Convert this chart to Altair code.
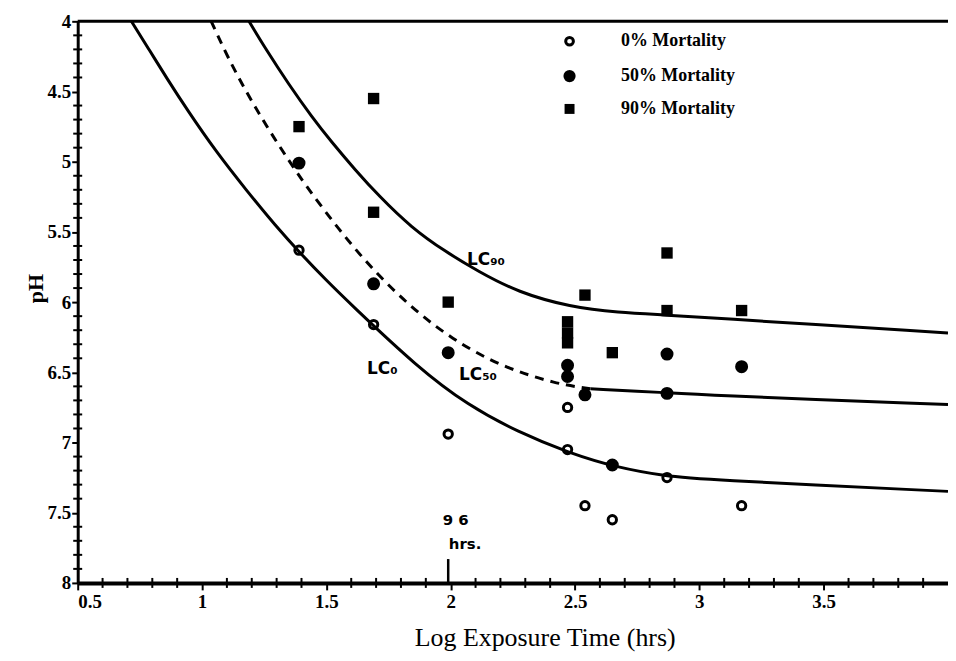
import altair as alt
import pandas as pd

# ---- observations (log exposure time in hrs, pH) ----
mort0_x = [1.39, 1.69, 1.99, 2.47, 2.47, 2.87, 2.54, 2.65, 3.17]
mort0_ph = [5.63, 6.16, 6.94, 6.75, 7.05, 7.25, 7.45, 7.55, 7.45]

mort50_x = [1.39, 1.69, 1.99, 2.47, 2.47, 2.54, 2.65, 2.87, 2.87, 3.17]
mort50_ph = [5.01, 5.87, 6.36, 6.45, 6.53, 6.66, 7.16, 6.37, 6.65, 6.46]

mort90_x = [1.39, 1.69, 1.69, 1.99, 2.47, 2.47, 2.47, 2.54, 2.65, 2.87, 2.87, 3.17]
mort90_ph = [4.75, 4.55, 5.36, 6.00, 6.14, 6.22, 6.29, 5.95, 6.36, 5.65, 6.06, 6.06]

# ---- fitted curves ----
lc0_x = [0.716, 0.79, 0.86, 0.94, 1.057, 1.177, 1.297, 1.397, 1.497, 1.589,
         1.87, 2.07, 2.27, 2.47, 2.671, 2.871, 2.991, 4.0]
lc0_ph = [4.0, 4.21, 4.41, 4.63, 4.93, 5.2, 5.46, 5.655, 5.84, 6.0,
          6.47, 6.735, 6.925, 7.07, 7.18, 7.24, 7.262, 7.348]

lc50_dash_x = [1.037, 1.101, 1.177, 1.257, 1.337, 1.421, 1.549, 1.681, 1.842,
               2.002, 2.202, 2.43, 2.562]
lc50_dash_ph = [4.0, 4.248, 4.5, 4.74, 4.96, 5.18, 5.48, 5.76, 6.04,
                6.26, 6.46, 6.585, 6.617]
lc50_solid_x = [2.562, 2.871, 2.991, 4.0]
lc50_solid_ph = [6.617, 6.645, 6.66, 6.73]

lc90_x = [1.189, 1.257, 1.349, 1.441, 1.521, 1.617, 1.709, 1.842, 1.978, 2.11,
          2.27, 2.482, 2.671, 2.871, 2.991, 4.0]
lc90_ph = [4.0, 4.2, 4.45, 4.68, 4.86, 5.06, 5.24, 5.47, 5.64, 5.78,
           5.93, 6.035, 6.075, 6.092, 6.106, 6.22]

# ---- annotations ----
curve_labels = ["LC\u2089\u2080", "LC\u2085\u2080", "LC\u2080"]
curve_label_x = [2.142, 2.11, 1.725]
curve_label_ph = [5.70, 6.52, 6.475]

legend_labels = ["0% Mortality", "50% Mortality", "90% Mortality"]
legend_marker_x = 2.478
legend_text_x = 2.685
legend_ph = [4.142, 4.39, 4.624]

# axis tick positions
x_major = [0.5, 1.0, 1.5, 2.0, 2.5, 3.0, 3.5]
x_minor = [0.6, 0.7, 0.8, 0.9, 1.1, 1.2, 1.3, 1.4, 1.6, 1.7, 1.8, 1.9,
           2.1, 2.2, 2.3, 2.4, 2.6, 2.7, 2.8, 2.9, 3.1, 3.2, 3.3, 3.4,
           3.6, 3.7, 3.8, 3.9]
y_major = [4.0, 4.5, 5.0, 5.5, 6.0, 6.5, 7.0, 7.5, 8.0]
y_minor = [4.1, 4.2, 4.3, 4.4, 4.6, 4.7, 4.8, 4.9, 5.1, 5.2, 5.3, 5.4,
           5.6, 5.7, 5.8, 5.9, 6.1, 6.2, 6.3, 6.4, 6.6, 6.7, 6.8, 6.9,
           7.1, 7.2, 7.3, 7.4, 7.6, 7.7, 7.8, 7.9]

SERIF = "Liberation Serif"
SANS = "DejaVu Sans"

X = alt.X(
    "x:Q",
    scale=alt.Scale(domain=[0.5, 4.0], nice=False, zero=False),
    axis=alt.Axis(
        values=x_major,
        format="~g",
        labelOverlap=False,
        labelFont=SERIF, labelFontWeight="bold", labelFontSize=19,
        labelColor="black", labelPadding=3,
        ticks=True, tickSize=7, tickWidth=2, tickColor="black",
        domainColor="black", domainWidth=4,
        grid=False,
        title="Log Exposure Time (hrs)",
        titleFont=SERIF, titleFontSize=26, titleFontWeight="normal",
        titleColor="black", titleX=469, titleY=63,
        titleAlign="center", titleBaseline="alphabetic", titleAnchor="start",
    ),
)
Y = alt.Y(
    "y:Q",
    scale=alt.Scale(domain=[4.0, 8.0], nice=False, zero=False, reverse=True),
    axis=alt.Axis(
        values=y_major,
        format="~g",
        labelOverlap=False,
        labelFont=SERIF, labelFontWeight="bold", labelFontSize=19,
        labelColor="black", labelPadding=1,
        ticks=True, tickSize=6, tickWidth=2, tickColor="black",
        domainColor="black", domainWidth=3,
        grid=False,
        title="pH",
        titleFont=SERIF, titleFontSize=22, titleFontWeight="bold",
        titleColor="black", titleX=-42, titleY=268,
        titleAlign="center", titleBaseline="middle", titleAnchor="start",
        titleAngle=270,
    ),
)


def df(xs, ys, **extra):
    d = pd.DataFrame({"x": xs, "y": ys})
    for k, v in extra.items():
        d[k] = v
    return d


# minor tick marks crossing the axes
xt_minor = alt.Chart(df(x_minor, [8.0] * len(x_minor))).mark_tick(
    orient="vertical", color="black", size=10, thickness=2, opacity=1
).encode(x=X, y=Y)
yt_minor = alt.Chart(df([0.5] * len(y_minor), y_minor)).mark_tick(
    orient="horizontal", color="black", size=9, thickness=2, opacity=1
).encode(x=X, y=Y)

curves_solid = pd.concat([
    df(lc0_x, lc0_ph, curve="LC0"),
    df(lc90_x, lc90_ph, curve="LC90"),
    df(lc50_solid_x, lc50_solid_ph, curve="LC50s"),
])

solid = alt.Chart(curves_solid).mark_line(
    color="black", strokeWidth=3, interpolate="basis"
).encode(x=X, y=Y, detail="curve:N")

dashed = alt.Chart(df(lc50_dash_x, lc50_dash_ph)).mark_line(
    color="black", strokeWidth=3, strokeDash=[9, 7], interpolate="basis"
).encode(x=X, y=Y)

pts0 = alt.Chart(df(mort0_x, mort0_ph)).mark_point(
    shape="circle", filled=False, stroke="black", strokeWidth=3, size=70, opacity=1
).encode(x=X, y=Y)
pts50 = alt.Chart(df(mort50_x, mort50_ph)).mark_point(
    shape="circle", filled=True, color="black", size=170, opacity=1
).encode(x=X, y=Y)
pts90 = alt.Chart(df(mort90_x, mort90_ph)).mark_point(
    shape="square", filled=True, color="black", size=130, opacity=1
).encode(x=X, y=Y)

leg0 = alt.Chart(df([legend_marker_x], [legend_ph[0]])).mark_point(
    shape="circle", filled=False, stroke="black", strokeWidth=3, size=60, opacity=1
).encode(x=X, y=Y)
leg50 = alt.Chart(df([legend_marker_x], [legend_ph[1]])).mark_point(
    shape="circle", filled=True, color="black", size=150, opacity=1
).encode(x=X, y=Y)
leg90 = alt.Chart(df([legend_marker_x], [legend_ph[2]])).mark_point(
    shape="square", filled=True, color="black", size=100, opacity=1
).encode(x=X, y=Y)
leg_text = alt.Chart(
    df([legend_text_x] * 3, legend_ph, label=legend_labels)
).mark_text(
    align="left", baseline="middle", font=SERIF, fontSize=18,
    fontWeight="bold", color="black"
).encode(x=X, y=Y, text="label:N")

lc_text = alt.Chart(
    df(curve_label_x, curve_label_ph, label=curve_labels)
).mark_text(
    align="center", baseline="middle", font=SANS, fontSize=17,
    fontWeight="bold", color="black"
).encode(x=X, y=Y, text="label:N")

hrs_text = alt.Chart(
    df([2.02, 2.058], [7.553, 7.72], label=["9 6", "hrs."])
).mark_text(
    align="center", baseline="middle", font=SANS, fontSize=15,
    fontWeight="bold", color="black"
).encode(x=X, y=Y, text="label:N")

hrs_rule = alt.Chart(df([1.99], [7.83], y2=[8.0])).mark_rule(
    color="black", strokeWidth=2.5
).encode(x=X, y=Y, y2="y2:Q")

top_rule = alt.Chart(df([0.5], [4.0], x2=[4.0])).mark_rule(
    color="black", strokeWidth=3
).encode(x=X, y=Y, x2="x2:Q")

chart = alt.layer(
    top_rule, solid, dashed, pts0, pts50, pts90,
    leg0, leg50, leg90, leg_text, lc_text, hrs_text, hrs_rule,
    xt_minor, yt_minor,
).properties(
    width=874, height=564,
    autosize=alt.AutoSizeParams(type="none"),
    padding={"left": 70, "top": 12, "right": 0, "bottom": 68},
    background="white",
).configure_view(stroke=None)

chart.save("out.html", embed_options={"renderer": "svg", "actions": False})
